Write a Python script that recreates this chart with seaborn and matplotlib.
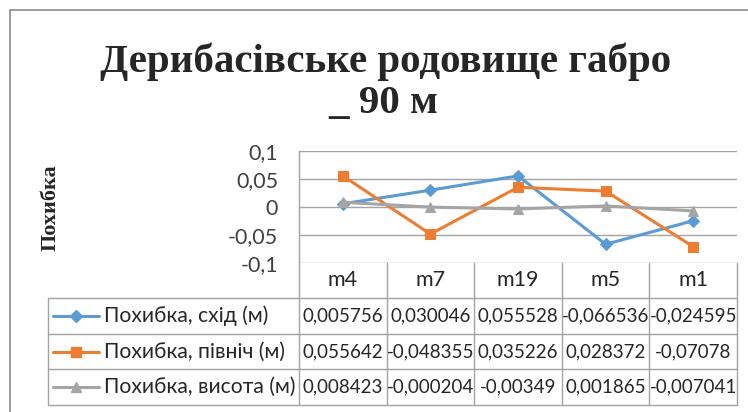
import matplotlib
matplotlib.use("Agg")
import matplotlib.pyplot as plt
import seaborn as sns

# data
points = ["m4", "m7", "m19", "m5", "m1"]
east = [0.005756, 0.030046, 0.055528, -0.066536, -0.024595]
north = [0.055642, -0.048355, 0.035226, 0.028372, -0.07078]
height = [0.008423, -0.000204, -0.00349, 0.001865, -0.007041]
series_names = ["Похибка, схід (м)", "Похибка, північ (м)", "Похибка, висота (м)"]
y_ticks = [-0.1, -0.05, 0, 0.05, 0.1]

sns.set_theme(style="white")
plt.rcParams['font.family'] = ['Lato', 'DejaVu Sans']

W, H = 748, 412
fig = plt.figure(figsize=(7.48, 4.12), dpi=100)

def fx(px):
    return px / W
def fy(py):
    return 1 - py / H

grid_c = "#A3A3A3"
colors = ["#5B9BD5", "#ED7D31", "#A5A5A5"]
markers = ["D", "s", "^"]
msizes = [6, 7.5, 7.5]

# plot area
left, right, top, bottom = 299, 737, 151, 263
ax = fig.add_axes([fx(left), fy(bottom), fx(right - left), (bottom - top) / H])
xs = list(range(len(points)))
for vals, c, m, ms in zip([east, north, height], colors, markers, msizes):
    sns.lineplot(x=xs, y=vals, ax=ax, color=c, marker=m, markersize=ms,
                 markeredgecolor=c, linewidth=2.2, sort=False)
ax.set_xlim(-0.5, len(points) - 0.5)
ax.set_ylim(-0.1, 0.1)
ax.set_yticks(y_ticks)
ax.set_yticklabels([("%g" % t).replace(".", ",") for t in y_ticks], fontsize=15.5, color="#404040")
ax.set_xticks([])
ax.tick_params(axis="y", length=0, pad=15)
for t in y_ticks:
    ax.axhline(t, color=grid_c, linewidth=1, zorder=0)
for s in ["top", "right", "bottom"]:
    ax.spines[s].set_visible(False)
ax.spines["left"].set_color(grid_c)
ax.spines["left"].set_linewidth(1)

# chart border
fig.add_artist(plt.Line2D([fx(10), fx(10)], [fy(10), fy(412)], color="#8C8C8C", linewidth=1.2))
fig.add_artist(plt.Line2D([fx(10), fx(748)], [fy(10), fy(10)], color="#8C8C8C", linewidth=1.2))

# title and axis label
serif = ["Liberation Serif", "DejaVu Serif"]
fig.text(fx(386), fy(72), "Дерибасівське родовище габро", ha="center", va="baseline",
         fontsize=29.5, fontweight="bold", family=serif)
fig.text(fx(383), fy(113), "_ 90 м", ha="center", va="baseline",
         fontsize=29.5, fontweight="bold", family=serif)
fig.text(fx(51), fy(208), "Похибка", ha="center", va="center", rotation=90,
         fontsize=16, fontweight="bold", family=serif)

# data table
col_w = (right - left) / len(points)
col_x = [left + i * col_w for i in range(len(points) + 1)]
rows_y = [298, 334, 369, 405]
leg_left = 48

def hline(x0, x1, y):
    fig.add_artist(plt.Line2D([fx(x0), fx(x1)], [fy(y), fy(y)], color=grid_c, linewidth=1))
def vline(x, y0, y1):
    fig.add_artist(plt.Line2D([fx(x), fx(x)], [fy(y0), fy(y1)], color=grid_c, linewidth=1))

for x in col_x:
    vline(x, bottom, rows_y[-1])
vline(leg_left, rows_y[0], rows_y[-1])
for y in rows_y:
    hline(leg_left, right, y)

txt_c = "#262626"
for i, p in enumerate(points):
    fig.text(fx(col_x[i] + col_w / 2), fy((bottom + rows_y[0]) / 2), p, ha="center", va="center",
             fontsize=15.5, color=txt_c)

for r, (vals, name, c, m, ms) in enumerate(zip([east, north, height], series_names, colors, markers, msizes)):
    yc = (rows_y[r] + rows_y[r + 1]) / 2
    fig.add_artist(plt.Line2D([fx(53), fx(99)], [fy(yc), fy(yc)], color=c, linewidth=2.2))
    fig.add_artist(plt.Line2D([fx(76)], [fy(yc)], color=c, marker=m, markersize=ms, linestyle="none"))
    fig.text(fx(104), fy(yc), name, ha="left", va="center", fontsize=15.2, color=txt_c)
    for i, v in enumerate(vals):
        fig.text(fx(col_x[i] + col_w / 2), fy(yc), ("%g" % v).replace(".", ","),
                 ha="center", va="center", fontsize=13.5, color=txt_c)

fig.savefig("out.png", dpi=100, facecolor="white")
